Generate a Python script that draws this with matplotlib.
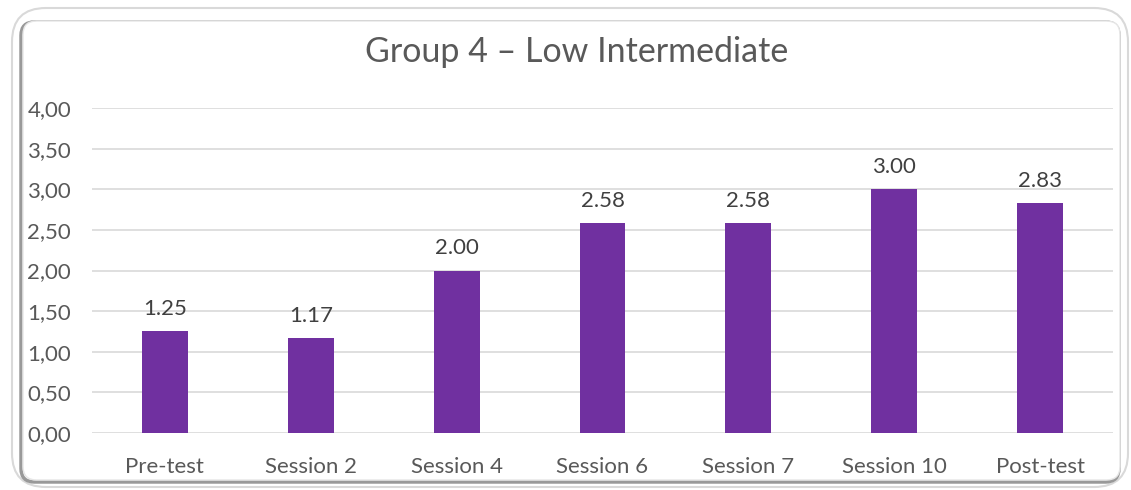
import matplotlib
matplotlib.use("Agg")
import matplotlib.pyplot as plt
from matplotlib.patches import FancyBboxPatch

categories = ["Pre-test", "Session 2", "Session 4", "Session 6", "Session 7", "Session 10", "Post-test"]
values = [1.25, 1.17, 2.00, 2.58, 2.58, 3.00, 2.83]
yticks = [0, 0.5, 1.0, 1.5, 2.0, 2.5, 3.0, 3.5, 4.0]
title = "Group 4 \u2013 Low Intermediate"

plt.rcParams['font.family'] = ['Lato', 'DejaVu Sans']
text_color = "#595959"
bar_color = "#7030A0"

W, H = 1131, 490
fig = plt.figure(figsize=(W / 100, H / 100), dpi=100)

def fx(x): return x / W
def fy(y): return 1 - y / H

outer = FancyBboxPatch((fx(12), fy(487)), fx(1128) - fx(12), fy(8) - fy(487),
                       boxstyle="round,pad=0,rounding_size=0.03", transform=fig.transFigure,
                       facecolor="white", edgecolor="#d9d9d9", linewidth=1.5, mutation_aspect=W / H,
                       zorder=-3)
fig.patches.append(outer)
shadow = FancyBboxPatch((fx(21), fy(482)), fx(1119) - fx(21), fy(22) - fy(482),
                        boxstyle="round,pad=0,rounding_size=0.012", transform=fig.transFigure,
                        facecolor="none", edgecolor="#999999", linewidth=2.5, mutation_aspect=W / H,
                        zorder=-2)
fig.patches.append(shadow)
inner = FancyBboxPatch((fx(23), fy(480)), fx(1120) - fx(23), fy(21) - fy(480),
                       boxstyle="round,pad=0,rounding_size=0.012", transform=fig.transFigure,
                       facecolor="white", edgecolor="#e6e6e6", linewidth=1.0, mutation_aspect=W / H,
                       zorder=-1)
fig.patches.append(inner)

ax = fig.add_axes([fx(92), fy(433), fx(1113) - fx(92), fy(108) - fy(433)])
ax.set_zorder(2)
ax.set_facecolor("none")
x = range(len(categories))
ax.bar(x, values, width=0.315, color=bar_color, zorder=3)
ax.set_xlim(-0.5, len(categories) - 0.5)
ax.set_ylim(0, 4)
ax.set_yticks(yticks)
ax.set_yticklabels([f"{v:.2f}".replace(".", ",") for v in yticks], color=text_color, fontsize=16)
ax.set_xticks(list(x))
ax.set_xticklabels(categories, color=text_color, fontsize=16)
ax.tick_params(axis="both", length=0)
ax.tick_params(axis="y", pad=15)
ax.tick_params(axis="x", pad=17)
for yv in yticks:
    ax.axhline(yv, color="#d9d9d9", linewidth=1.2, zorder=1)
for s in ax.spines.values():
    s.set_visible(False)
for xi, v in zip(x, values):
    ax.annotate(f"{v:.2f}", (xi, v), xytext=(0, 16), textcoords="offset points",
                ha="center", va="center", color="#404040", fontsize=16)

fig.text(fx(577), fy(52), title, ha="center", va="center", color=text_color, fontsize=24.5,
         zorder=3)

fig.savefig("out.png", dpi=100)
